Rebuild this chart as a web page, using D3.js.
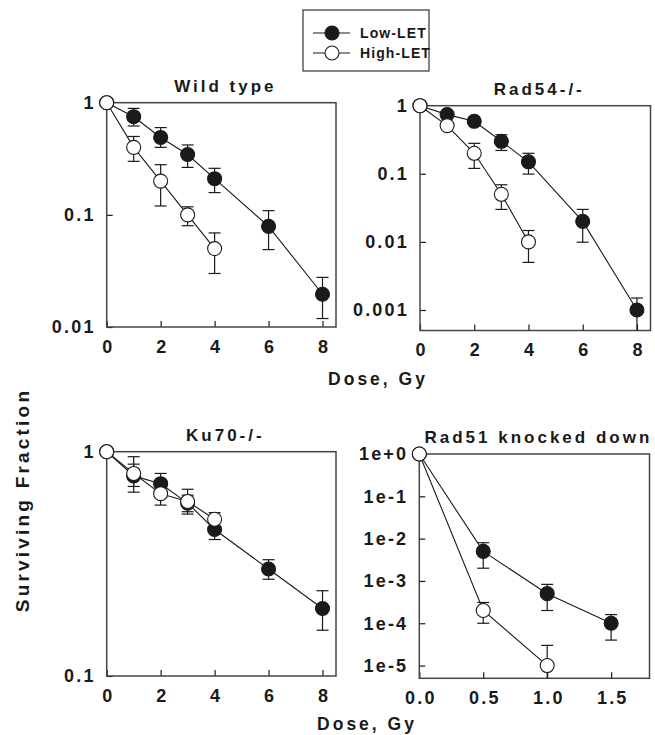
<!DOCTYPE html>
<html lang="en">
<head>
    <meta charset="utf-8">
    <title>Surviving fraction</title>
    <script type="text/javascript" src="https://cdn.jsdelivr.net/npm/d3@7/dist/d3.min.js"></script>
    <style>
        body { margin: 0; background: #fff; }
        text { font-family: "Liberation Sans", Arial, sans-serif; font-weight: bold; fill: #1a1a1a; }
    </style>
</head>
<body>
<script type="text/javascript">
    // Wild type
    var wtLowDose = [0, 1, 2, 3, 4, 6, 8];
    var wtLow     = [1, 0.75, 0.49, 0.345, 0.21, 0.079, 0.0196];
    var wtLowUp   = [1, 0.89, 0.60, 0.42, 0.26, 0.109, 0.0277];
    var wtLowDn   = [1, 0.62, 0.40, 0.265, 0.158, 0.049, 0.0119];
    var wtHighDose = [0, 1, 2, 3, 4];
    var wtHigh     = [1, 0.40, 0.20, 0.10, 0.05];
    var wtHighUp   = [1, 0.50, 0.28, 0.118, 0.069];
    var wtHighDn   = [1, 0.30, 0.12, 0.080, 0.030];

    // Rad54-/-
    var r54LowDose = [0, 1, 2, 3, 4, 6, 8];
    var r54Low     = [1, 0.74, 0.59, 0.30, 0.15, 0.02, 0.001];
    var r54LowUp   = [1, 0.80, 0.64, 0.375, 0.20, 0.030, 0.0015];
    var r54LowDn   = [1, 0.68, 0.54, 0.22, 0.099, 0.0099, 0.0005];
    var r54HighDose = [0, 1, 2, 3, 4];
    var r54High     = [1, 0.51, 0.20, 0.05, 0.01];
    var r54HighUp   = [1, 0.55, 0.28, 0.069, 0.0147];
    var r54HighDn   = [1, 0.47, 0.12, 0.030, 0.005];

    // Ku70-/-
    var kuLowDose = [0, 1, 2, 3, 4, 6, 8];
    var kuLow     = [1, 0.78, 0.72, 0.59, 0.45, 0.30, 0.20];
    var kuLowUp   = [1, 0.88, 0.80, 0.64, 0.50, 0.33, 0.24];
    var kuLowDn   = [1, 0.70, 0.64, 0.54, 0.406, 0.27, 0.16];
    var kuHighDose = [0, 1, 2, 3, 4];
    var kuHigh     = [1, 0.80, 0.65, 0.60, 0.50];
    var kuHighUp   = [1, 0.95, 0.72, 0.68, 0.535];
    var kuHighDn   = [1, 0.66, 0.578, 0.527, 0.46];

    // Rad51 knocked down
    var r51LowDose = [0, 0.5, 1.0, 1.5];
    var r51Low     = [1, 5e-3, 5e-4, 1e-4];
    var r51LowUp   = [1, 8e-3, 8.3e-4, 1.6e-4];
    var r51LowDn   = [1, 2e-3, 2e-4, 4e-5];
    var r51HighDose = [0, 0.5, 1.0];
    var r51High     = [1, 2e-4, 1e-5];
    var r51HighUp   = [1, 3.1e-4, 3e-5];
    var r51HighDn   = [1, 1e-4, 5e-6];

    // tick labels
    var doseTicks = [0, 2, 4, 6, 8];
    var r51DoseTicks = [0, 0.5, 1.0, 1.5];
    var r51DoseLabels = ["0.0", "0.5", "1.0", "1.5"];
    var wtYTicks = [1, 0.1, 0.01];
    var wtYLabels = ["1", "0.1", "0.01"];
    var r54YTicks = [1, 0.1, 0.01, 0.001];
    var r54YLabels = ["1", "0.1", "0.01", "0.001"];
    var kuYTicks = [1, 0.1];
    var kuYLabels = ["1", "0.1"];
    var r51YTicks = [1, 1e-1, 1e-2, 1e-3, 1e-4, 1e-5];
    var r51YLabels = ["1e+0", "1e-1", "1e-2", "1e-3", "1e-4", "1e-5"];

    var seriesNames = ["Low-LET", "High-LET"];

    function zip(dose, v, up, dn) {
        return dose.map(function (d, i) {
            return {x: d, y: v[i], up: up[i], dn: dn[i]};
        });
    }

    var panels = [
        {title: "Wild type", x0: 106.7, x1: 336, y0: 102.7, y1: 327, xmax: 8.5, ymin: 0.01,
            xt: doseTicks, xl: doseTicks.map(String), yt: wtYTicks, yl: wtYLabels,
            low: zip(wtLowDose, wtLow, wtLowUp, wtLowDn), high: zip(wtHighDose, wtHigh, wtHighUp, wtHighDn)},
        {title: "Rad54-/-", x0: 420, x1: 650.5, y0: 105.7, y1: 330.5, xmax: 8.5, ymin: 0.0005,
            xt: doseTicks, xl: doseTicks.map(String), yt: r54YTicks, yl: r54YLabels,
            low: zip(r54LowDose, r54Low, r54LowUp, r54LowDn), high: zip(r54HighDose, r54High, r54HighUp, r54HighDn)},
        {title: "Ku70-/-", x0: 106.7, x1: 336, y0: 451.7, y1: 676, xmax: 8.5, ymin: 0.1,
            xt: doseTicks, xl: doseTicks.map(String), yt: kuYTicks, yl: kuYLabels,
            low: zip(kuLowDose, kuLow, kuLowUp, kuLowDn), high: zip(kuHighDose, kuHigh, kuHighUp, kuHighDn)},
        {title: "Rad51 knocked down", x0: 419.3, x1: 649.5, y0: 454, y1: 678.3, xmax: 1.8, ymin: 5e-6,
            xt: r51DoseTicks, xl: r51DoseLabels, yt: r51YTicks, yl: r51YLabels,
            low: zip(r51LowDose, r51Low, r51LowUp, r51LowDn), high: zip(r51HighDose, r51High, r51HighUp, r51HighDn)}
    ];

    var w = 655, h = 735;
    var ink = "#1a1a1a";

    var svg = d3.select("body")
        .append("svg")
        .attr("width", w)
        .attr("height", h);

    panels.forEach(function (p) {
        var x = d3.scaleLinear().domain([0, p.xmax]).range([p.x0, p.x1]);
        var y = d3.scaleLog().domain([p.ymin, 1]).range([p.y1, p.y0]);
        var g = svg.append("g");

        // x axis, ticks pointing in
        var xa = g.append("g")
            .attr("transform", "translate(0," + p.y1 + ")")
            .call(d3.axisBottom(x).tickValues(p.xt)
                .tickFormat(function (d, i) { return p.xl[i]; })
                .tickSizeInner(-6).tickSizeOuter(0).tickPadding(13));
        var ya = g.append("g")
            .attr("transform", "translate(" + p.x0 + ",0)")
            .call(d3.axisLeft(y).tickValues(p.yt)
                .tickFormat(function (d, i) { return p.yl[i]; })
                .tickSizeInner(-6).tickSizeOuter(0).tickPadding(11));
        [xa, ya].forEach(function (a) {
            a.select(".domain").remove();
            a.selectAll(".tick line").attr("stroke", ink).attr("stroke-width", 1.2);
            a.selectAll(".tick text")
                .attr("font-family", null)
                .attr("font-size", null)
                .style("font-size", "18px")
                .style("letter-spacing", "2.2px")
                .attr("fill", ink);
        });
        xa.selectAll(".tick text").attr("dx", "1.1px");

        // frame
        g.append("rect")
            .attr("x", p.x0)
            .attr("y", p.y0)
            .attr("width", p.x1 - p.x0)
            .attr("height", p.y1 - p.y0)
            .attr("fill", "none")
            .attr("stroke", "#444")
            .attr("stroke-width", 1.5);

        // title
        g.append("text")
            .text(p.title)
            .attr("x", (p.x0 + p.x1) / 2 + 4)
            .attr("y", p.y0 - 11)
            .attr("text-anchor", "middle")
            .style("font-size", "17px")
            .style("letter-spacing", "3px");

        var line = d3.line().x(d => x(d.x)).y(d => y(d.y));

        [p.low, p.high].forEach(function (s) {
            g.append("path")
                .datum(s)
                .attr("d", line)
                .attr("fill", "none")
                .attr("stroke", ink)
                .attr("stroke-width", 1.1);
        });

        [p.low, p.high].forEach(function (s, k) {
            var bars = s.filter(d => d.up !== d.y || d.dn !== d.y);
            var eb = g.append("g").attr("stroke", ink).attr("stroke-width", 1.2);
            eb.selectAll("line.v")
                .data(bars)
                .enter()
                .append("line")
                .attr("x1", d => x(d.x)).attr("x2", d => x(d.x))
                .attr("y1", d => y(d.up)).attr("y2", d => y(Math.max(d.dn, p.ymin)));
            eb.selectAll("line.t")
                .data(bars)
                .enter()
                .append("line")
                .attr("x1", d => x(d.x) - 6).attr("x2", d => x(d.x) + 6)
                .attr("y1", d => y(d.up)).attr("y2", d => y(d.up));
            eb.selectAll("line.b")
                .data(bars.filter(d => d.dn > p.ymin))
                .enter()
                .append("line")
                .attr("x1", d => x(d.x) - 6).attr("x2", d => x(d.x) + 6)
                .attr("y1", d => y(d.dn)).attr("y2", d => y(d.dn));

            g.selectAll("circle.s" + k)
                .data(s)
                .enter()
                .append("circle")
                .attr("class", "s" + k)
                .attr("cx", d => x(d.x))
                .attr("cy", d => y(d.y))
                .attr("r", 7)
                .attr("fill", k === 0 ? ink : "#fff")
                .attr("stroke", ink)
                .attr("stroke-width", 1.1);
        });
    });

    // axis titles
    svg.append("text")
        .text("Dose, Gy")
        .attr("x", 378)
        .attr("y", 385)
        .attr("text-anchor", "middle")
        .style("font-size", "17.5px")
        .style("letter-spacing", "3px");
    svg.append("text")
        .text("Dose, Gy")
        .attr("x", 367)
        .attr("y", 730)
        .attr("text-anchor", "middle")
        .style("font-size", "17.5px")
        .style("letter-spacing", "3px");
    svg.append("text")
        .text("Surviving Fraction")
        .attr("transform", "translate(29,500) rotate(-90)")
        .attr("text-anchor", "middle")
        .style("font-size", "19px")
        .style("letter-spacing", "3.2px");

    // legend
    var lg = svg.append("g");
    lg.append("rect")
        .attr("x", 303).attr("y", 10)
        .attr("width", 126).attr("height", 61)
        .attr("fill", "#fff")
        .attr("stroke", "#333")
        .attr("stroke-width", 1.2);
    var ly = d3.scalePoint().domain(seriesNames).range([33, 53]);
    seriesNames.forEach(function (n, k) {
        lg.append("line")
            .attr("x1", 313).attr("x2", 350)
            .attr("y1", ly(n)).attr("y2", ly(n))
            .attr("stroke", ink).attr("stroke-width", 1.1);
        lg.append("circle")
            .attr("cx", 332).attr("cy", ly(n)).attr("r", 7)
            .attr("fill", k === 0 ? ink : "#fff")
            .attr("stroke", ink).attr("stroke-width", 1.1);
        lg.append("text")
            .text(n)
            .attr("x", 360)
            .attr("y", ly(n) + 5)
            .style("font-size", "14px")
            .style("letter-spacing", "1.1px");
    });
</script>
</body>
</html>
